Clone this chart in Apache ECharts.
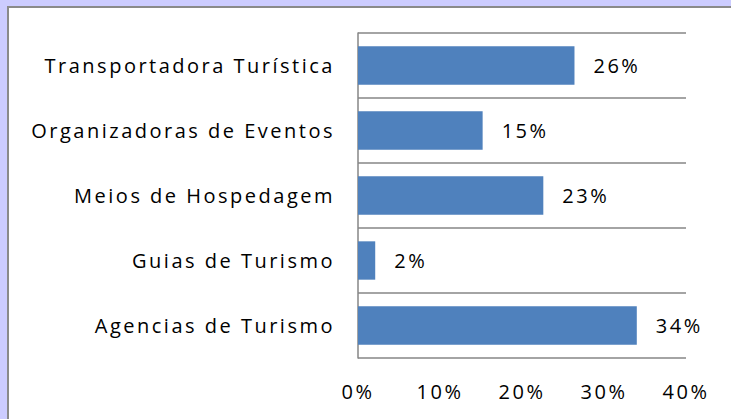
<!DOCTYPE html>
<html><head><meta charset="utf-8">
<script src="https://cdn.jsdelivr.net/npm/echarts@6/dist/echarts.min.js"></script>
<style>
html,body{margin:0;padding:0;width:731px;height:419px;overflow:hidden;background:#CCCCFF;}
#panel{position:absolute;left:7px;top:6px;width:730px;height:420px;background:#fff;border-left:2px solid #8a8a8a;border-top:2px solid #8a8a8a;}
#c{position:absolute;left:0;top:0;width:731px;height:419px;}
#c text{letter-spacing:2.5px;}
</style></head>
<body><div id="panel"></div><div id="c"></div>
<script>
const categories = ["Agencias de Turismo","Guias de Turismo","Meios de Hospedagem","Organizadoras de Eventos","Transportadora Turística"];
const values = [34.0, 2.1, 22.6, 15.2, 26.4];
const xTicks = [0, 10, 20, 30, 40];
const font = "'Open Sans', sans-serif";
const chart = echarts.init(document.getElementById('c'), null, {renderer:'svg'});
chart.setOption({
  backgroundColor: 'transparent',
  animation: false,
  grid: {left: 358, right: 45, top: 33, bottom: 61},
  xAxis: {
    type: 'value', min: xTicks[0], max: xTicks[xTicks.length-1], interval: 10,
    axisLine: {show: false}, axisTick: {show: false}, splitLine: {show: false},
    axisLabel: {formatter: '{value}%', color: '#000', fontFamily: font, fontSize: 20, margin: 23}
  },
  yAxis: {
    type: 'category', data: categories,
    axisLine: {show: true, lineStyle: {color: '#868686', width: 1.5}},
    axisTick: {show: false},
    splitLine: {show: true, lineStyle: {color: '#868686', width: 1.5}},
    axisLabel: {color: '#000', fontFamily: font, fontSize: 20, margin: 23}
  },
  series: [{
    type: 'bar', data: values, barCategoryGap: '41%',
    itemStyle: {color: '#4F81BD'},
    label: {show: true, position: 'right', distance: 19, formatter: p => Math.round(p.value) + '%', color: '#000', fontFamily: font, fontSize: 20}
  }]
});
</script></body></html>
